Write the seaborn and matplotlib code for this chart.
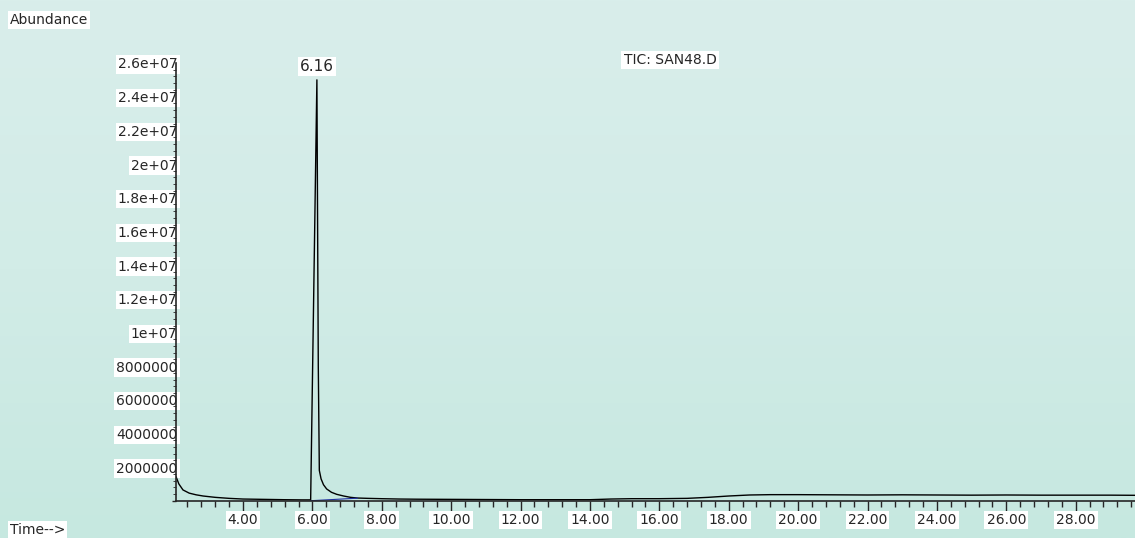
import numpy as np
import pandas as pd
import seaborn as sns
from matplotlib import pyplot as plt
from matplotlib.colors import LinearSegmentedColormap
from matplotlib.ticker import FuncFormatter, MultipleLocator

# chromatogram trace (time in min, abundance in counts)
time = [2.07, 2.15, 2.27, 2.45, 2.65, 2.85, 3.2, 3.6, 4.0, 4.6, 5.2, 5.7,
        5.95, 6.13, 6.17, 6.2, 6.25, 6.32, 6.41, 6.55, 6.7, 6.9, 7.1, 7.3,
        7.6, 8.0, 8.5, 9.0, 10.0, 11.0, 12.0, 13.0, 14.0, 14.6, 15.2, 16.0,
        16.8, 17.4, 18.0, 18.6, 19.2, 20.0, 21.0, 22.0, 23.0, 24.0, 25.0,
        26.0, 27.0, 28.0, 29.0, 29.8]
abundance = [1.43e6, 1.0e6, 0.64e6, 0.45e6, 0.35e6, 0.28e6, 0.2e6, 0.14e6,
             0.1e6, 0.08e6, 0.06e6, 0.05e6, 0.05e6, 25.0e6, 8.0e6, 1.8e6,
             1.3e6, 0.95e6, 0.7e6, 0.5e6, 0.38e6, 0.28e6, 0.2e6, 0.16e6,
             0.14e6, 0.12e6, 0.1e6, 0.09e6, 0.08e6, 0.07e6, 0.06e6, 0.06e6,
             0.06e6, 0.1e6, 0.12e6, 0.12e6, 0.14e6, 0.2e6, 0.28e6, 0.34e6,
             0.36e6, 0.36e6, 0.35e6, 0.34e6, 0.35e6, 0.34e6, 0.33e6, 0.34e6,
             0.33e6, 0.33e6, 0.33e6, 0.32e6]

# integration baseline under the peak
base_time = [5.95, 7.3]
base_abund = [0.0, 0.15e6]

peak_label = "6.16"
peak_time = 6.13
peak_abund = 25.0e6
title = "TIC: SAN48.D"

df = pd.DataFrame({"time": time, "abundance": abundance})

sns.set_style("ticks")
plt.rcParams["font.family"] = ["DejaVu Sans"]

fig = plt.figure(figsize=(11.35, 5.38), dpi=100)

# soft cyan background
bg = fig.add_axes([0, 0, 1, 1], zorder=-1)
grad = np.linspace(0, 1, 256).reshape(-1, 1)
cmap = LinearSegmentedColormap.from_list("bg", ["#d9eeeb", "#d2ece7", "#c6e8e0"])
bg.imshow(grad, aspect="auto", cmap=cmap, extent=[0, 1, 0, 1])
bg.axis("off")

ax = fig.add_axes([0.1551, 0.0693, 0.8449, 0.8136])
ax.patch.set_alpha(0)

sns.lineplot(data=df, x="time", y="abundance", ax=ax, color="black",
             linewidth=1.0, sort=False)
ax.plot(base_time, base_abund, color="#2030a0", linewidth=0.8)

ax.set_xlim(2.07, 29.71)
ax.set_ylim(0, 2.6e7)
ax.set_xlabel("")
ax.set_ylabel("")

ax.xaxis.set_major_locator(MultipleLocator(2))
ax.xaxis.set_minor_locator(MultipleLocator(0.4))
ax.yaxis.set_major_locator(MultipleLocator(2e6))
ax.yaxis.set_minor_locator(MultipleLocator(4e5))


def yfmt(v, pos):
    if v <= 0:
        return ""
    if v >= 1e7:
        return "{:g}".format(v)
    return "{:d}".format(int(round(v)))


ax.yaxis.set_major_formatter(FuncFormatter(yfmt))
ax.xaxis.set_major_formatter(FuncFormatter(lambda v, p: "{:.2f}".format(v)))

ax.tick_params(axis="x", which="major", length=7, width=1, pad=2, labelsize=10)
ax.tick_params(axis="x", which="minor", length=4, width=1)
ax.tick_params(axis="y", which="major", length=3, width=1, pad=-4, labelsize=10)
ax.tick_params(axis="y", which="minor", length=2, width=0.6)

for lab in ax.get_xticklabels() + ax.get_yticklabels():
    lab.set_bbox(dict(facecolor="white", edgecolor="none", pad=1.5))

sns.despine(ax=ax)
ax.spines["left"].set_linewidth(1.2)
ax.spines["bottom"].set_linewidth(1.2)

ax.annotate(peak_label, (peak_time, peak_abund), xytext=(0, 4),
            textcoords="offset points", ha="center", va="bottom",
            fontsize=11, bbox=dict(facecolor="white", edgecolor="none", pad=1.5))

fig.text(670 / 1135, 1 - 60 / 538, title, ha="center", va="center",
         fontsize=10, bbox=dict(facecolor="white", edgecolor="none", pad=1.5))
fig.text(10 / 1135, 1 - 20 / 538, "Abundance", ha="left", va="center",
         fontsize=10, bbox=dict(facecolor="white", edgecolor="none", pad=1.5))
fig.text(10 / 1135, 1 - 530 / 538, "Time-->", ha="left", va="center",
         fontsize=10, bbox=dict(facecolor="white", edgecolor="none", pad=1.5))

fig.savefig("out.png", dpi=100)
